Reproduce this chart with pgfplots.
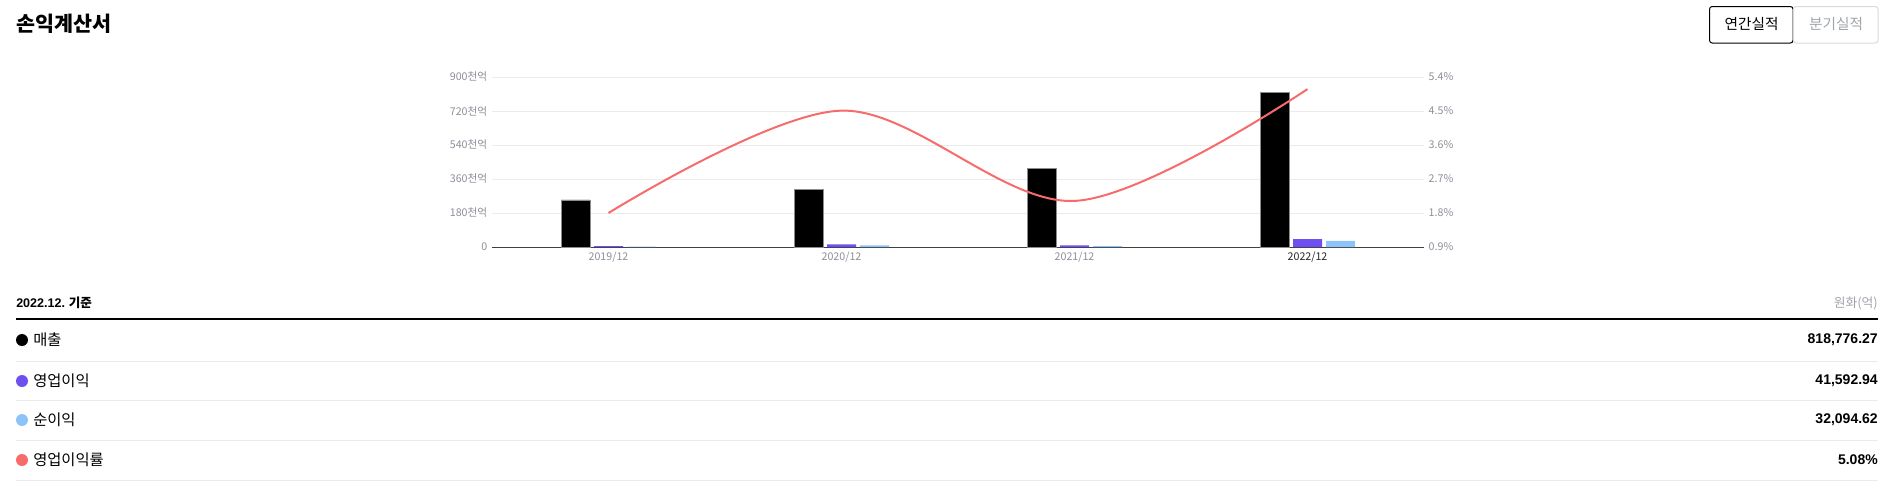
\documentclass[border=0pt]{standalone}
\usepackage{fontspec}
\setmainfont{Noto Sans CJK KR}
\newfontfamily\arialfont{Liberation Sans}
\usepackage{pgfplots}
\pgfplotsset{compat=1.18}

\definecolor{salesblack}{HTML}{000000}
\definecolor{oppurple}{HTML}{6E50F0}
\definecolor{netblue}{HTML}{8DC3F6}
\definecolor{marginred}{HTML}{F76B6B}
\definecolor{gridgray}{HTML}{EBEBEB}
\definecolor{labelgray}{HTML}{8B8F98}
\definecolor{btngray}{HTML}{D6D9DE}
\definecolor{btntext}{HTML}{A0A4AA}

\begin{document}
\begin{tikzpicture}
\begin{scope}[x=0.75pt,y=-0.75pt]
\useasboundingbox (0,0) rectangle (1892,483);
% header
\node[anchor=west, inner sep=0, font=\fontsize{15.5}{18}\selectfont\bfseries] at (16,24) {손익계산서};
\draw[black, line width=0.75pt, rounded corners=2pt] (1709.5,6.5) rectangle (1793,43);
\node[font=\fontsize{11}{13}\selectfont] at (1751.5,24.5) {연간실적};
\draw[btngray, line width=0.75pt, rounded corners=2pt] (1793.5,6.5) rectangle (1878,43);
\node[font=\fontsize{11}{13}\selectfont, text=btntext] at (1836,24.5) {분기실적};
% table
\node[anchor=west, inner sep=0, font=\fontsize{9.4}{11}\selectfont\bfseries] at (16,303) {{\arialfont 2022.12.} 기준};
\node[anchor=east, inner sep=0, font=\fontsize{9.6}{11}\selectfont, text=btntext] at (1878,303) {원화(억)};
\draw[black, line width=1.9pt] (16,319) -- (1878,319);
\foreach \yy in {361,400.5,440.5,480}{\draw[gridgray, line width=0.75pt] (16,\yy) -- (1878,\yy);}
\fill[salesblack] (22,340) circle (6);
\fill[oppurple] (22,381) circle (6);
\fill[netblue] (22,420) circle (6);
\fill[marginred] (22,460) circle (6);
\foreach \yy/\txt in {340/매출,381/영업이익,420/순이익,460/영업이익률}{
  \node[anchor=west, inner sep=0, font=\fontsize{11.5}{13}\selectfont] at (33,\yy) {\txt};}
\foreach \yy/\txt in {340/{818,776.27},381/{41,592.94},420/{32,094.62},460/{5.08\%}}{
  \node[anchor=east, inner sep=0, font=\fontsize{10.5}{12}\selectfont\arialfont\bfseries] at (1878,\yy) {\txt};}
\end{scope}

% bars, left axis
\begin{axis}[
    at={(369pt,-185.25pt)}, anchor=south west,
    scale only axis, width=699pt, height=127.5pt,
    xmin=-0.5, xmax=3.5, ymin=0, ymax=900,
    ybar=3pt, bar width=21.75pt,
    xtick={0,1,2,3},
    xticklabels={2019/12,2020/12,2021/12,{\textcolor{black!85}{2022/12}}},
    ytick={0,180,360,540,720,900},
    yticklabels={0,180천억,360천억,540천억,720천억,900천억},
    ymajorgrids, grid style={gridgray, line width=0.75pt},
    axis x line*=bottom, axis y line*=left,
    y axis line style={draw=none},
    x axis line style={black!75, line width=0.75pt},
    major tick length=0pt,
    tick label style={font=\fontsize{8}{9.5}\selectfont, text=labelgray},
    /pgf/number format/assume math mode=true,
    clip=false,
]
\addplot[fill=salesblack, draw=black!45, line width=0.4pt]
  coordinates {(0,249) (1,304) (2,418) (3,818.78)};
\addplot[fill=oppurple, draw=none]
  coordinates {(0,4.5) (1,13.7) (2,9.2) (3,41.59)};
\addplot[fill=netblue, draw=none]
  coordinates {(0,2.5) (1,8.0) (2,5.0) (3,32.09)};
\end{axis}

% margin line, right axis
\begin{axis}[
    at={(369pt,-185.25pt)}, anchor=south west,
    scale only axis, width=699pt, height=127.5pt,
    xmin=-0.5, xmax=3.5, ymin=0.9, ymax=5.4,
    hide x axis,
    axis y line*=right,
    y axis line style={draw=none},
    major tick length=0pt,
    ytick={0.9,1.8,2.7,3.6,4.5,5.4},
    yticklabels={0.9\%,1.8\%,2.7\%,3.6\%,4.5\%,5.4\%},
    tick label style={font=\fontsize{8}{9.5}\selectfont, text=labelgray},
    clip=false,
]
\addplot[marginred, line width=1.5pt, smooth, tension=0.55]
  coordinates {(0,1.80) (1,4.51) (2,2.12) (3,5.08)};
\end{axis}
\end{tikzpicture}
\end{document}
